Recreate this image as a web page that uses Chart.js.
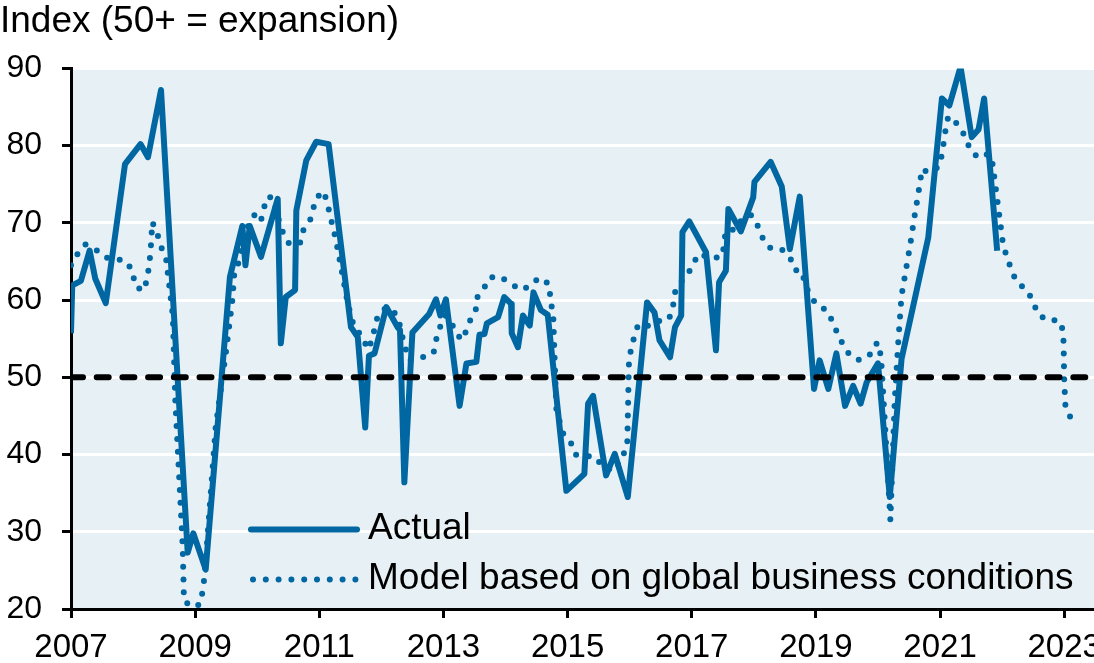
<!DOCTYPE html>
<html>
<head>
<meta charset="utf-8">
<script src="https://cdn.jsdelivr.net/npm/chart.js"></script>
<style>
  html, body { margin: 0; padding: 0; background: #fff; }
  #wrap { width: 1094px; height: 663px; }
</style>
</head>
<body>
<div id="wrap"><canvas id="chart_pmi_model"></canvas></div>
<script>
// values (decimal years)
const actualDates = [
  2007.00, 2007.02, 2007.16, 2007.30, 2007.39, 2007.56, 2007.87, 2008.12, 2008.24, 2008.45,
  2008.88, 2008.97, 2009.17, 2009.56, 2009.76, 2009.81, 2009.88, 2010.06, 2010.33, 2010.38,
  2010.46, 2010.61, 2010.63, 2010.79, 2010.95, 2011.15, 2011.51, 2011.62, 2011.74, 2011.80,
  2011.89, 2012.08, 2012.26, 2012.30, 2012.37, 2012.50, 2012.77, 2012.88, 2012.95, 2013.04,
  2013.26, 2013.37, 2013.53, 2013.58, 2013.66, 2013.70, 2013.88, 2013.98, 2014.09, 2014.10,
  2014.20, 2014.28, 2014.39, 2014.45, 2014.57, 2014.68, 2014.98, 2015.27, 2015.33, 2015.41,
  2015.62, 2015.76, 2015.97, 2016.28, 2016.40, 2016.48, 2016.65, 2016.73, 2016.83, 2016.85,
  2016.96, 2017.23, 2017.39, 2017.44, 2017.55, 2017.59, 2017.79, 2017.99, 2018.01, 2018.27,
  2018.45, 2018.58, 2018.74, 2018.97, 2019.06, 2019.20, 2019.33, 2019.47, 2019.60, 2019.72,
  2019.82, 2020.00, 2020.19, 2020.38, 2020.81, 2021.03, 2021.15, 2021.33, 2021.51, 2021.62,
  2021.71, 2021.92
];
const actualValues = [
  55.7, 61.9, 62.5, 66.4, 62.8, 59.6, 77.6, 80.2, 78.5, 87.2,
  27.3, 29.8, 25.1, 63.0, 69.6, 64.5, 69.6, 65.6, 73.1, 54.4,
  60.4, 61.3, 71.6, 78.1, 80.5, 80.2, 56.5, 55.2, 43.5, 52.8,
  53.1, 59.1, 56.5, 56.1, 36.4, 55.8, 58.2, 60.1, 58.0, 60.1,
  46.3, 51.8, 52.0, 55.5, 55.6, 57.0, 57.8, 60.4, 59.5, 55.7,
  53.9, 58.0, 56.7, 61.0, 58.7, 58.1, 35.3, 37.5, 46.6, 47.6,
  37.3, 40.1, 34.5, 59.7, 58.4, 54.8, 52.6, 56.5, 58.0, 68.8,
  70.2, 66.2, 53.5, 62.3, 63.8, 71.8, 68.9, 73.3, 75.3, 77.9,
  74.7, 66.6, 73.4, 48.5, 52.2, 48.5, 53.1, 46.3, 48.9, 46.6,
  49.4, 51.8, 34.5, 52.4, 68.1, 86.1, 85.2, 90.2, 81.1, 82.1,
  86.1, 66.4
];

const modelDates = [
  2007.00, 2007.10, 2007.23, 2007.39, 2007.56, 2007.75, 2007.91, 2008.00, 2008.03, 2008.17,
  2008.23, 2008.28, 2008.31, 2008.39, 2008.45, 2008.53, 2008.64, 2008.68, 2008.80, 2008.82,
  2008.98, 2009.09, 2009.15, 2009.33, 2009.50, 2009.60, 2009.63, 2009.71, 2009.84, 2009.97,
  2010.06, 2010.10, 2010.15, 2010.25, 2010.35, 2010.42, 2010.52, 2010.69, 2010.73, 2010.85,
  2010.90, 2010.96, 2011.07, 2011.13, 2011.27, 2011.38, 2011.46, 2011.56, 2011.70, 2011.78,
  2011.85, 2011.89, 2011.94, 2012.08, 2012.21, 2012.29, 2012.34, 2012.39, 2012.45, 2012.66,
  2012.84, 2012.88, 2012.94, 2013.03, 2013.10, 2013.18, 2013.29, 2013.35, 2013.42, 2013.52,
  2013.53, 2013.65, 2013.74, 2013.89, 2014.06, 2014.24, 2014.39, 2014.54, 2014.70, 2014.72,
  2014.77, 2014.79, 2014.82, 2014.93, 2015.06, 2015.12, 2015.44, 2015.57, 2015.76, 2015.89,
  2015.96, 2015.99, 2016.05, 2016.08, 2016.15, 2016.33, 2016.50, 2016.63, 2016.70, 2016.71,
  2016.80, 2016.94, 2017.03, 2017.11, 2017.25, 2017.32, 2017.48, 2017.53, 2017.54, 2017.72,
  2017.82, 2017.96, 2018.07, 2018.15, 2018.28, 2018.46, 2018.59, 2018.66, 2018.77, 2018.82,
  2018.89, 2019.01, 2019.17, 2019.27, 2019.35, 2019.44, 2019.55, 2019.71, 2019.88, 2019.98,
  2020.02, 2020.06, 2020.20, 2020.27, 2020.33, 2020.38, 2020.45, 2020.52, 2020.58, 2020.65,
  2020.71, 2020.81, 2020.97, 2021.03, 2021.09, 2021.13, 2021.19, 2021.31, 2021.42, 2021.48,
  2021.62, 2021.77, 2021.83, 2021.86, 2022.02, 2022.09, 2022.15, 2022.24, 2022.40, 2022.50,
  2022.57, 2022.71, 2022.91, 2022.97, 2022.99, 2023.00, 2023.02, 2023.10
];
const modelValues = [
  64.5, 65.9, 67.2, 66.6, 65.5, 65.3, 64.9, 63.4, 61.8, 61.2,
  62.8, 66.0, 70.1, 68.6, 66.9, 65.5, 58.0, 47.0, 28.0, 21.0,
  20.2, 20.7, 24.1, 43.5, 53.5, 60.0, 63.4, 65.1, 69.4, 71.2,
  70.3, 71.6, 73.3, 73.3, 70.3, 68.6, 67.2, 67.4, 68.9, 70.3,
  71.8, 73.3, 74.1, 72.5, 67.7, 63.0, 59.5, 56.5, 55.2, 53.6,
  54.8, 56.3, 57.9, 59.1, 58.4, 57.0, 55.2, 53.7, 52.2, 52.6,
  53.1, 54.8, 56.4, 58.0, 57.6, 56.1, 54.8, 55.7, 57.2, 58.6,
  60.2, 61.5, 62.9, 63.1, 62.3, 61.3, 61.8, 62.9, 62.1, 60.5,
  57.6, 52.6, 45.7, 42.7, 41.4, 40.0, 39.7, 38.4, 37.9, 39.9,
  41.0, 52.6, 54.3, 55.8, 56.9, 56.6, 57.4, 57.5, 59.1, 60.7,
  62.1, 63.4, 64.8, 66.0, 65.6, 65.4, 65.6, 67.3, 68.9, 69.2,
  70.7, 71.0, 69.5, 67.9, 66.6, 66.5, 65.4, 63.9, 63.8, 62.3,
  60.8, 59.4, 58.7, 57.2, 55.6, 54.2, 52.8, 52.2, 53.0, 54.4,
  54.4, 51.3, 31.5, 47.0, 55.0, 60.6, 63.9, 67.2, 70.4, 73.8,
  77.0, 76.5, 77.2, 78.8, 82.1, 83.7, 83.7, 82.4, 81.0, 79.5,
  78.4, 78.9, 78.5, 76.8, 66.9, 65.4, 63.8, 62.3, 61.3, 59.8,
  58.3, 57.4, 57.4, 56.3, 54.6, 49.6, 46.3, 44.8
];

const tickYears = [2007, 2009, 2011, 2013, 2015, 2017, 2019, 2021, 2023];
const expansionLine = 50;
const xMin = 2007, xMax = 2023.48;
const seriesNames = ['Actual', 'Model based on global business conditions'];

const blue = '#0067a3';
const font = "'Liberation Sans', Arial, sans-serif";

const toPoints = (xs, ys) => xs.map((x, i) => ({ x: x, y: ys[i] }));

const plotBackground = {
  id: 'plotBackground',
  beforeDraw(chart) {
    const { ctx, chartArea: a } = chart;
    ctx.save();
    ctx.fillStyle = '#e7f0f4';
    ctx.fillRect(a.left, a.top, a.right - a.left, a.bottom - a.top);
    ctx.restore();
  }
};

// legend drawn inside the plot, lower middle
const insideLegend = {
  id: 'insideLegend',
  afterDraw(chart) {
    const { ctx, chartArea: a } = chart;
    const x0 = a.left + 180, x1 = a.left + 286, tx = a.left + 297;
    const rows = [a.top + 461, a.top + 511];
    ctx.save();
    ctx.strokeStyle = blue;
    ctx.lineWidth = 6;
    ctx.lineCap = 'round';
    ctx.beginPath();
    ctx.moveTo(x0, rows[0]); ctx.lineTo(x1, rows[0]);
    ctx.stroke();
    ctx.setLineDash([0, 12.8]);
    ctx.beginPath();
    ctx.moveTo(x0 + 2, rows[1]); ctx.lineTo(x1, rows[1]);
    ctx.stroke();
    ctx.setLineDash([]);
    ctx.fillStyle = '#000';
    ctx.font = '37px ' + font;
    ctx.textBaseline = 'middle';
    ctx.fillText(seriesNames[0], tx, rows[0] - 1);
    ctx.fillText(seriesNames[1], tx, rows[1] - 1);
    ctx.restore();
  }
};

const data = {
  datasets: [
    {
      label: '50',
      data: [{ x: xMin, y: expansionLine }, { x: xMax, y: expansionLine }],
      borderColor: '#000',
      borderWidth: 6,
      borderDash: [12, 13.7],
      borderCapStyle: 'round',
      pointRadius: 0
    },
    {
      label: seriesNames[0],
      data: toPoints(actualDates, actualValues),
      borderColor: blue,
      borderWidth: 6,
      borderJoinStyle: 'round',
      pointRadius: 0
    },
    {
      label: seriesNames[1],
      data: toPoints(modelDates, modelValues),
      borderColor: blue,
      borderWidth: 6,
      borderDash: [0, 12.8],
      borderCapStyle: 'round',
      pointRadius: 0
    }
  ]
};

const options = {
  responsive: true,
  maintainAspectRatio: false,
  animation: false,
  layout: { padding: 0 },
  plugins: {
    legend: { display: false },
    tooltip: { enabled: false },
    title: {
      display: true,
      text: 'Index (50+ = expansion)',
      align: 'start',
      color: '#000',
      font: { family: font, size: 37, weight: 'normal' },
      padding: { top: 0, bottom: 24 }
    }
  },
  scales: {
    x: {
      type: 'linear',
      min: xMin,
      max: xMax,
      afterBuildTicks(scale) {
        scale.ticks = tickYears.map(v => ({ value: v }));
      },
      afterFit(scale) {
        scale.height = 54;
        scale.paddingLeft = 0;
        scale.paddingRight = 0;
      },
      grid: {
        drawOnChartArea: false,
        drawTicks: true,
        tickLength: 9,
        tickWidth: 3,
        tickColor: '#000'
      },
      border: { color: '#000', width: 3 },
      ticks: {
        color: '#000',
        padding: 10,
        maxRotation: 0,
        autoSkip: false,
        font: { family: font, size: 33 },
        callback: v => String(v)
      }
    },
    y: {
      min: 20,
      max: 90,
      afterFit(scale) {
        scale.width = 71;
        scale.paddingTop = 0;
        scale.paddingBottom = 0;
      },
      grid: {
        color: '#fff',
        lineWidth: 3,
        drawTicks: true,
        tickLength: 9,
        tickWidth: 3,
        tickColor: '#000'
      },
      border: { color: '#000', width: 3 },
      ticks: {
        stepSize: 10,
        color: '#000',
        padding: 20,
        font: { family: font, size: 32 }
      }
    }
  }
};

new Chart('chart_pmi_model', { type: 'line', data, options, plugins: [plotBackground, insideLegend] });
</script>
</body>
</html>
